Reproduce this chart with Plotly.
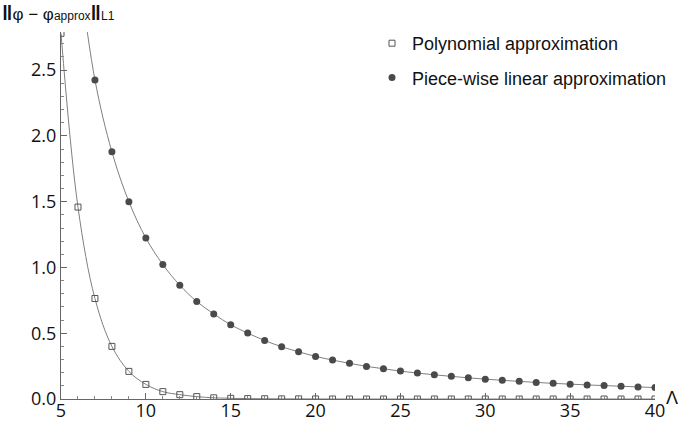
import plotly.graph_objects as go

# ---- data ----
x_poly = list(range(5, 41))
poly_err = [2.78, 1.459, 0.764, 0.400, 0.210, 0.111, 0.056, 0.033, 0.018, 0.009,
            0.005, 0.003, 0.002, 0.001, 0.001, 0.0005, 0.0, 0.0, 0.0, 0.0,
            0.0, 0.0, 0.0, 0.0, 0.0, 0.0, 0.0, 0.0, 0.0, 0.0,
            0.0, 0.0, 0.0, 0.0, 0.0, 0.0]

x_pw = list(range(6, 41))
pw_err = [3.33, 2.426, 1.879, 1.500, 1.224, 1.022, 0.865, 0.741, 0.647, 0.564,
          0.501, 0.445, 0.397, 0.359, 0.324, 0.296, 0.271, 0.248, 0.230, 0.212,
          0.197, 0.184, 0.172, 0.161, 0.151, 0.142, 0.134, 0.126, 0.119, 0.113,
          0.107, 0.102, 0.097, 0.092, 0.087]

x_ticks = [5, 10, 15, 20, 25, 30, 35, 40]
y_ticks = [0.0, 0.5, 1.0, 1.5, 2.0, 2.5]
y_tick_text = ["0.0", "0.5", "1.0", "1.5", "2.0", "2.5"]

name_poly = "Polynomial approximation"
name_pw = "Piece-wise linear approximation"

LINE_COLOR = "#808080"
MARK_COLOR = "#4a4a4a"
TICK_FONT = dict(family="Open Sans", size=18, color="#111")

L, R, T, B = 61, 25, 32, 24
PW = 680 - L - R
PH = 423 - T - B

fig = go.Figure()

# smooth curves
fig.add_trace(go.Scatter(x=x_poly, y=poly_err, mode="lines", showlegend=False,
                         line=dict(color=LINE_COLOR, width=1, shape="spline", smoothing=1),
                         hoverinfo="skip"))
fig.add_trace(go.Scatter(x=x_pw, y=pw_err, mode="lines", showlegend=False,
                         line=dict(color=LINE_COLOR, width=1, shape="spline", smoothing=1),
                         hoverinfo="skip"))
# markers
fig.add_trace(go.Scatter(x=x_poly, y=poly_err, mode="markers", name=name_poly,
                         legendgroup="a",
                         marker=dict(symbol="square-open", size=6, color="#555",
                                     line=dict(width=1, color="#555"))))
fig.add_trace(go.Scatter(x=x_pw, y=pw_err, mode="markers", name=name_pw,
                         legendgroup="b",
                         marker=dict(symbol="circle", size=7, color=MARK_COLOR)))

fig.update_layout(
    width=680, height=423,
    margin=dict(l=L, r=R, t=T, b=B, autoexpand=False),
    paper_bgcolor="white", plot_bgcolor="white",
    legend=dict(x=(372 - L) / PW, y=1 + (T - 25) / PH, xanchor="left", yanchor="top",
                font=dict(family="Liberation Sans", size=18, color="#111"),
                bgcolor="rgba(0,0,0,0)", tracegroupgap=8, traceorder="grouped",
                itemwidth=30),
    annotations=[
        dict(xref="paper", yref="paper", x=-L / PW, y=1 + (T - 12) / PH,
             xanchor="left", yanchor="middle", showarrow=False,
             text="<span style='font-size:21px'><b>‖</b></span>φ − φ<span style='font-size:12px'>approx</span>"
                  "<span style='font-size:21px'><b>‖</b></span><span style='font-size:12px'>L1</span>",
             font=dict(family="Liberation Sans", size=17, color="#111")),
        dict(xref="paper", yref="paper", x=1 + 17 / PW, y=1 / PH,
             xanchor="center", yanchor="middle", showarrow=False,
             text="Λ", font=dict(family="Liberation Sans", size=18, color="#111")),
    ],
)

fig.update_xaxes(range=[5, 40], tickmode="array", tickvals=x_ticks,
                 ticks="inside", ticklen=6, tickcolor="#666", tickwidth=1,
                 showline=True, linecolor="#666", linewidth=1,
                 showgrid=False, zeroline=False, tickfont=TICK_FONT,
                 ticklabelstandoff=-5,
                 minor=dict(dtick=1, ticks="inside", ticklen=3, tickcolor="#888", showgrid=False),
                 automargin=False)
fig.update_yaxes(range=[0, 2.79], tickmode="array", tickvals=y_ticks, ticktext=y_tick_text,
                 ticks="inside", ticklen=6, tickcolor="#666", tickwidth=1,
                 showline=True, linecolor="#666", linewidth=1,
                 showgrid=False, zeroline=False, tickfont=TICK_FONT,
                 minor=dict(dtick=0.1, ticks="inside", ticklen=3, tickcolor="#888", showgrid=False),
                 automargin=False)

fig.write_html("out.html", config={"displayModeBar": False},
               post_script="document.body.style.margin='0';")
